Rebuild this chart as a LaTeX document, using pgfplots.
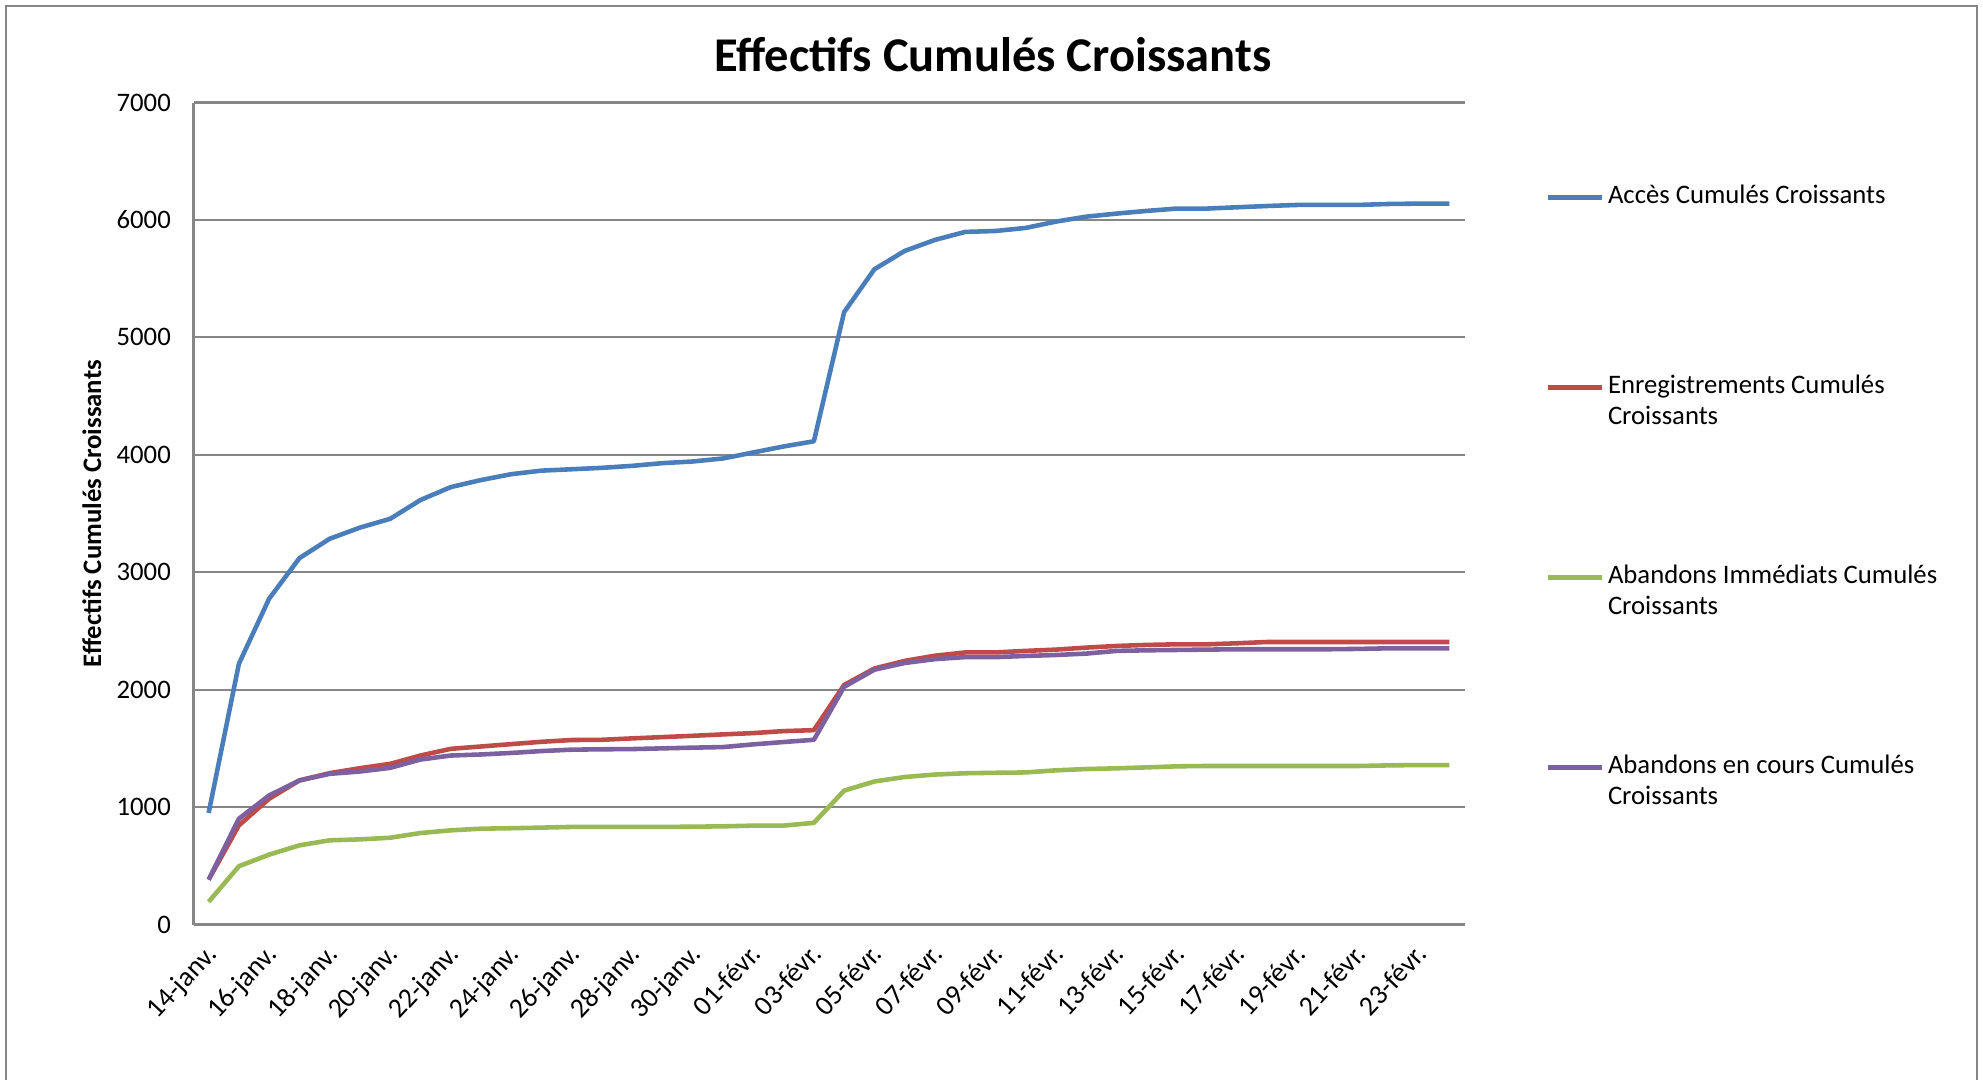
\documentclass[border=0pt]{standalone}
\usepackage{pgfplots}
\pgfplotsset{compat=1.18}
\usepackage{pgfplotstable}
\usepackage{fontspec}
\setmainfont{Carlito}
\definecolor{cblue}{HTML}{4A7EBB}
\definecolor{cred}{HTML}{BE4B48}
\definecolor{cgreen}{HTML}{98B954}
\definecolor{cpurple}{HTML}{7D60A0}
\definecolor{cgrid}{HTML}{868686}
\pgfplotstableread{
x acc enr imm enc
0 950 382 193 382
1 2220 844 496 901
2 2775 1071 595 1099
3 3120 1227 674 1227
4 3285 1289 717 1283
5 3380 1331 725 1303
6 3455 1368 739 1334
7 3615 1439 779 1405
8 3725 1496 802 1439
9 3785 1516 816 1448
10 3835 1536 820 1461
11 3865 1556 825 1477
12 3877 1571 831 1489
13 3889 1573 831 1492
14 3906 1585 831 1494
15 3929 1596 831 1500
16 3943 1607 833 1506
17 3969 1619 836 1511
18 4020 1630 842 1534
19 4071 1647 842 1554
20 4115 1655 866 1573
21 5215 2040 1140 2024
22 5580 2180 1218 2170
23 5736 2245 1256 2227
24 5830 2289 1277 2260
25 5898 2317 1288 2277
26 5906 2317 1292 2277
27 5932 2330 1295 2287
28 5986 2341 1313 2295
29 6028 2358 1324 2307
30 6054 2372 1330 2330
31 6077 2381 1338 2335
32 6097 2386 1347 2338
33 6097 2386 1350 2341
34 6108 2395 1350 2344
35 6119 2406 1350 2344
36 6128 2406 1350 2344
37 6128 2406 1350 2344
38 6128 2406 1350 2347
39 6136 2406 1355 2352
40 6139 2406 1358 2352
41 6139 2406 1358 2352
}\data
\begin{document}
\begin{tikzpicture}
\useasboundingbox (0,0) rectangle (19.83,10.79);
\draw[cgrid, line width=0.6pt] (0.06,-0.2) -- (0.06,10.73) -- (19.77,10.73) -- (19.77,-0.2);
\begin{axis}[
  at={(1.935cm,1.545cm)}, anchor=south west,
  width=12.71cm, height=8.22cm, scale only axis,
  xmin=-0.5, xmax=41.5, ymin=0, ymax=7000,
  ytick={0,1000,...,7000},
  xtick={0,2,...,40},
  xticklabels={14-janv.,16-janv.,18-janv.,20-janv.,22-janv.,24-janv.,26-janv.,28-janv.,30-janv.,01-févr.,03-févr.,05-févr.,07-févr.,09-févr.,11-févr.,13-févr.,15-févr.,17-févr.,19-févr.,21-févr.,23-févr.},
  axis x line*=bottom, axis y line*=left,
  axis line style={cgrid, line width=0.6pt},
  ymajorgrids, grid style={cgrid, line width=0.6pt},
  major tick length=0pt,
  tick label style={font=\fontsize{7.6}{9}\selectfont},
  /pgf/number format/assume math mode=true,
  /pgf/number format/1000 sep={},
  yticklabel style={anchor=east, inner sep=0pt, xshift=-0.22cm},
  xticklabel style={yshift=-0.12cm, xshift=-0.05cm, rotate=47, anchor=north east, inner sep=1pt, font=\fontsize{7.9}{9}\selectfont},
  title={Effectifs Cumulés Croissants},
  title style={at={(axis description cs:0.629,1.0323)}, anchor=center, font=\fontsize{13.8}{16}\selectfont\bfseries},
  ylabel={Effectifs Cumulés Croissants},
  ylabel style={at={(axis description cs:-0.0799,0.5)}, anchor=center, font=\fontsize{7.6}{9}\selectfont\bfseries},
  legend cell align=left,
  legend image code/.code={\draw[#1, line width=1.3pt] (0cm,0.15cm) -- (0.54cm,0.15cm);},
  legend style={draw=none, fill=none, inner sep=0pt, at={(axis description cs:1.0635,0.901)}, anchor=north west,
    row sep=38.3pt, column sep=0pt, font=\fontsize{7.6}{9}\selectfont,
    nodes={align=left, inner ysep=0pt, inner xsep=1pt}},
  every axis plot/.append style={line width=1.3pt, line join=round, no markers},
]
\addplot[cblue] table[x=x, y=acc] {\data};
\addlegendentry{Accès Cumulés Croissants\\\mbox{}}
\addplot[cred] table[x=x, y=enr] {\data};
\addlegendentry{Enregistrements Cumulés\\Croissants}
\addplot[cgreen] table[x=x, y=imm] {\data};
\addlegendentry{Abandons Immédiats Cumulés\\Croissants}
\addplot[cpurple] table[x=x, y=enc] {\data};
\addlegendentry{Abandons en cours Cumulés\\Croissants}
\end{axis}
\end{tikzpicture}
\end{document}
